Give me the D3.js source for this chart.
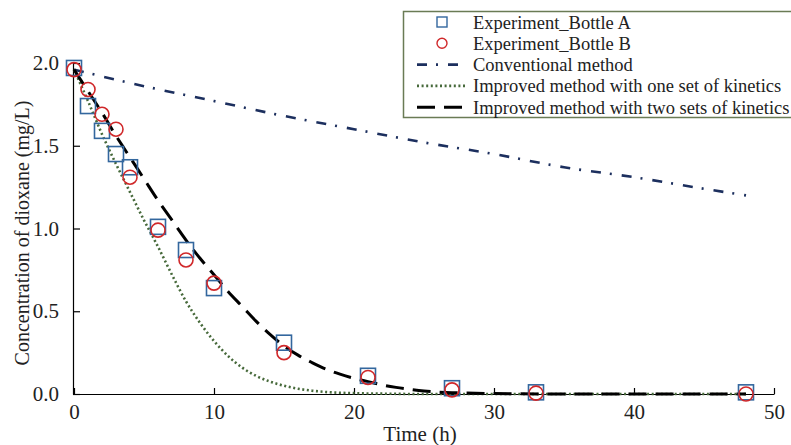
<!DOCTYPE html>
<html lang="en">
  <head>
    <meta charset="UTF-8" />
    <title>Dioxane concentration</title>
    <script src="https://d3js.org/d3.v7.min.js"></script>
    <style>
      body { margin: 0; background: #fff; }
      svg { display: block; font-family: 'Liberation Serif', 'Times New Roman', serif; }
    </style>
  </head>
  <body>
    <svg width="791" height="445"></svg>
    <script>
      // measured points
      const sampleTimes = [0, 1, 2, 3, 4, 6, 8, 10, 15, 21, 27, 33, 48];
      const bottleA = [1.97, 1.74, 1.59, 1.45, 1.37, 1.01, 0.87, 0.64, 0.31, 0.11, 0.035, 0.01, 0.01];
      const bottleB = [1.96, 1.84, 1.69, 1.6, 1.31, 0.99, 0.81, 0.67, 0.25, 0.1, 0.025, 0.005, 0];

      // model curves
      const convTimes = [0, 5, 10, 15, 20, 25, 30, 35, 40, 45, 48];
      const convValues = [1.96, 1.86, 1.77, 1.68, 1.6, 1.52, 1.45, 1.37, 1.31, 1.24, 1.2];

      const oneTimes = [0, 1, 2, 3, 4, 5, 6, 7, 8, 9, 10, 11, 12, 13, 14, 15, 16, 17, 18, 20, 22, 25, 48];
      const oneValues = [1.96, 1.77, 1.57, 1.39, 1.22, 1.05, 0.89, 0.72, 0.56, 0.43, 0.32, 0.23, 0.16, 0.11, 0.075, 0.05, 0.032, 0.02, 0.012, 0.005, 0.002, 0, 0];

      const twoTimes = [0, 1, 2, 3, 4, 5, 6, 7, 8, 9, 10, 11, 12, 13, 14, 15, 16, 17, 18, 19, 20, 21, 22, 23, 24, 25, 27, 30, 35, 48];
      const twoValues = [1.96, 1.83, 1.7, 1.56, 1.43, 1.3, 1.17, 1.05, 0.93, 0.82, 0.72, 0.62, 0.53, 0.44, 0.36, 0.29, 0.235, 0.19, 0.15, 0.12, 0.095, 0.075, 0.055, 0.04, 0.028, 0.018, 0.008, 0.003, 0, 0];

      const xTicks = [0, 10, 20, 30, 40, 50];
      const yTicks = [0, 0.5, 1, 1.5, 2];

      const svg = d3.select('svg');
      const x = d3.scaleLinear().domain([0, 50]).range([74, 774]);
      const y = d3.scaleLinear().domain([0, 2]).range([394, 63]);

      // axes
      const xAxis = svg.append('g')
        .attr('transform', `translate(0,${y(0)})`)
        .call(d3.axisBottom(x).tickValues(xTicks).tickSizeInner(-6).tickSizeOuter(0).tickPadding(10).tickFormat(d3.format('d')));
      const yAxis = svg.append('g')
        .attr('transform', `translate(${x(0) - 1},0)`)
        .call(d3.axisLeft(y).tickValues(yTicks).tickSizeInner(-7).tickSizeOuter(0).tickPadding(14).tickFormat(d3.format('.1f')));
      [xAxis, yAxis].forEach((g) => {
        g.select('.domain').attr('stroke', '#000').attr('stroke-width', 1.2);
        g.selectAll('.tick line').attr('stroke', '#000').attr('stroke-width', 1.2);
        g.selectAll('.tick text').attr('fill', '#222').style('font-size', '21px').style('font-family', 'Liberation Serif');
      });

      svg.append('text')
        .attr('x', 420).attr('y', 441)
        .attr('text-anchor', 'middle')
        .style('font-size', '21px')
        .attr('fill', '#222')
        .text('Time (h)');
      svg.append('text')
        .attr('transform', 'translate(29,233) rotate(-90)')
        .attr('text-anchor', 'middle')
        .style('font-size', '20px')
        .attr('fill', '#222')
        .text('Concentration of dioxane (mg/L)');

      // lines
      const line = d3.line().x((d) => x(d[0])).y((d) => y(d[1])).curve(d3.curveMonotoneX);
      const zip = (a, b) => a.map((t, i) => [t, b[i]]);

      svg.append('path').datum(zip(convTimes, convValues))
        .attr('d', line).attr('fill', 'none')
        .attr('stroke', '#1c2f5e').attr('stroke-width', 2.6)
        .attr('stroke-dasharray', '10 9 2 10');
      svg.append('path').datum(zip(oneTimes, oneValues))
        .attr('d', line).attr('fill', 'none')
        .attr('stroke', '#46693a').attr('stroke-width', 2.6)
        .attr('stroke-dasharray', '2 2.6');
      svg.append('path').datum(zip(twoTimes, twoValues))
        .attr('d', line).attr('fill', 'none')
        .attr('stroke', '#000').attr('stroke-width', 3)
        .attr('stroke-dasharray', '18 9');

      // markers
      const side = 15;
      svg.append('g').selectAll('rect')
        .data(zip(sampleTimes, bottleA))
        .join('rect')
        .attr('x', (d) => x(d[0]) - side / 2)
        .attr('y', (d) => y(d[1]) - side / 2)
        .attr('width', side).attr('height', side)
        .attr('fill', 'none').attr('stroke', '#33679e').attr('stroke-width', 1.6);
      svg.append('g').selectAll('circle')
        .data(zip(sampleTimes, bottleB))
        .join('circle')
        .attr('cx', (d) => x(d[0]))
        .attr('cy', (d) => y(d[1]))
        .attr('r', 7)
        .attr('fill', 'none').attr('stroke', '#d0282a').attr('stroke-width', 1.6);

      // legend
      const legend = svg.append('g');
      legend.append('rect')
        .attr('x', 403.5).attr('y', 11.5).attr('width', 400).attr('height', 106)
        .attr('fill', '#fff').attr('stroke', '#6a7b55').attr('stroke-width', 1.5);
      const items = [
        { label: 'Experiment_Bottle A', kind: 'square' },
        { label: 'Experiment_Bottle B', kind: 'circle' },
        { label: 'Conventional method', kind: 'line', stroke: '#1c2f5e', dash: '10 9 2 10', w: 2.6 },
        { label: 'Improved method with one set of kinetics', kind: 'line', stroke: '#46693a', dash: '2 2.6', w: 2.6 },
        { label: 'Improved method with two sets of kinetics', kind: 'line', stroke: '#000', dash: '18 9', w: 3 },
      ];
      items.forEach((it, i) => {
        const cy = 22 + i * 21.3;
        if (it.kind === 'square') {
          legend.append('rect').attr('x', 437).attr('y', cy - 5).attr('width', 10).attr('height', 10)
            .attr('fill', 'none').attr('stroke', '#33679e').attr('stroke-width', 1.4);
        } else if (it.kind === 'circle') {
          legend.append('circle').attr('cx', 442).attr('cy', cy).attr('r', 5)
            .attr('fill', 'none').attr('stroke', '#d0282a').attr('stroke-width', 1.4);
        } else {
          legend.append('line').attr('x1', 417).attr('x2', 467).attr('y1', cy).attr('y2', cy)
            .attr('stroke', it.stroke).attr('stroke-width', it.w).attr('stroke-dasharray', it.dash);
        }
        legend.append('text').attr('x', 473).attr('y', cy + 6.5)
          .style('font-size', '18.5px').attr('fill', '#222').text(it.label);
      });
    </script>
  </body>
</html>
